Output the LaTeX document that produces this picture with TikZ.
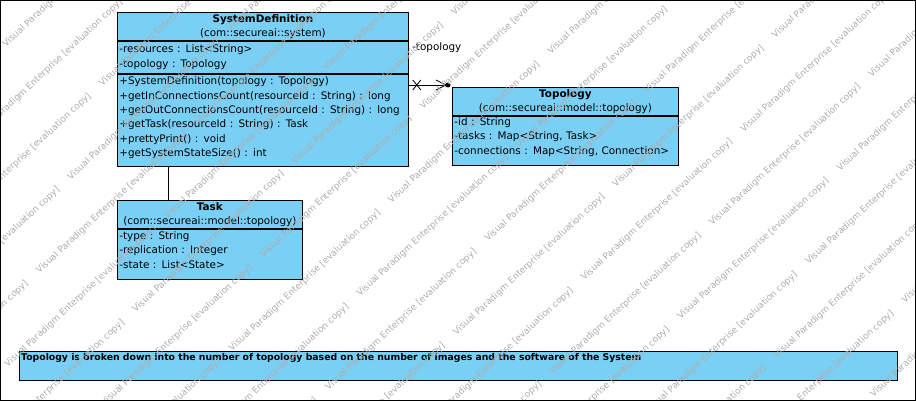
\documentclass[tikz,border=0pt]{standalone}
\usepackage{fontspec}
\setmainfont{DejaVu Sans}
\usetikzlibrary{positioning}
\definecolor{vpblue}{RGB}{122,207,245}

\begin{document}
\begin{tikzpicture}[x=1pt,y=-1pt,node distance=0pt,
    classhead/.style={draw,fill=vpblue,line width=0.8pt,anchor=north west,
        inner xsep=2pt,inner ysep=0pt,align=center,text width=#1,
        minimum height=28pt,font=\fontsize{10.4}{14.3}\selectfont},
    classbody/.style={draw,fill=vpblue,line width=0.8pt,
        inner xsep=2pt,inner ysep=0pt,align=left,text width=#1,
        font=\fontsize{10.4}{14.3}\selectfont},
    notebox/.style={draw,fill=vpblue,line width=0.8pt,anchor=north west,
        inner sep=0pt,minimum width=878pt,minimum height=29pt},
    wmark/.style={rotate=43,anchor=base west,inner sep=0pt,text=black!32,
        font=\fontsize{9}{9}\selectfont}]
    \useasboundingbox (0,0) rectangle (916,401);

    % SystemDefinition
    \node[classhead=287pt] (sd_head) at (117,12)
        {\textbf{SystemDefinition}\\(com::secureai::system)};
    \node[classbody=287pt,minimum height=32pt] [below=of sd_head] (sd_attr)
        {-resources : List<String>\\-topology : Topology};
    \node[classbody=287pt,minimum height=92pt,text depth=78pt] [below=of sd_attr] (sd_ops)
        {+SystemDefinition(topology : Topology)\\
         +getInConnectionsCount(resourceId : String) : long\\
         +getOutConnectionsCount(resourceId : String) : long\\
         +getTask(resourceId : String) : Task\\
         +prettyPrint() : void\\
         +getSystemStateSize() : int};

    % Topology
    \node[classhead=222pt] (topo_head) at (452,87)
        {\textbf{Topology}\\(com::secureai::model::topology)};
    \node[classbody=222pt,minimum height=49pt,text depth=38pt] [below=of topo_head] (topo_attr)
        {-id : String\\-tasks : Map<String, Task>\\-connections : Map<String, Connection>};

    % Task
    \node[classhead=181pt] (task_head) at (117,200)
        {\textbf{Task}\\(com::secureai::model::topology)};
    \node[classbody=181pt,minimum height=50pt,text depth=37pt] [below=of task_head] (task_attr)
        {-type : String\\-replication : Integer\\-state : List<State>};

    % note
    \node[notebox] (note) at (19,351) {};
    \node[anchor=north west,inner sep=2pt,font=\fontsize{9.3}{12}\selectfont\bfseries]
        (note_text) at (note.north west)
        {Topology is broken down into the number of topology based on the number of images and the software of the System};

    % SystemDefinition -- Task
    \draw[line width=0.8pt] ([xshift=51pt]sd_ops.south west) -- ([xshift=51pt]task_head.north west);

    % SystemDefinition -> Topology
    \coordinate (assoc_end) at ([xshift=-4pt,yshift=2pt]topo_head.north west);
    \coordinate (assoc_x) at ([xshift=8pt]sd_ops.east |- assoc_end);
    \draw[line width=0.8pt] (sd_ops.east |- assoc_end) -- (assoc_end);
    \draw[line width=0.8pt] (assoc_x) ++(-4,-5) -- ++(8,10) (assoc_x) ++(4,-5) -- ++(-8,10);
    \draw[line width=0.8pt] ([xshift=-2pt]assoc_end) ++(-10,-5) -- ++(10,5) -- ++(-10,5);
    \fill (assoc_end) circle (2.5pt);
    \node[anchor=west,inner sep=0pt,font=\fontsize{10.4}{14.3}\selectfont] (topo_role) at (412,48) {-topology};

    % watermark
    \begin{scope}
        \clip (0,0) rectangle (916,401);
        \foreach \i in {-6,...,6}
            \foreach \j in {-12,...,11}
                \node[wmark] at ({360+159.4*\i-31.5*\j},{297-148.7*\i+93.8*\j})
                    {Visual Paradigm Enterprise [evaluation copy]};
    \end{scope}

    \draw[line width=1pt] (0.5,0.5) rectangle (915.5,400.5);
\end{tikzpicture}
\end{document}
